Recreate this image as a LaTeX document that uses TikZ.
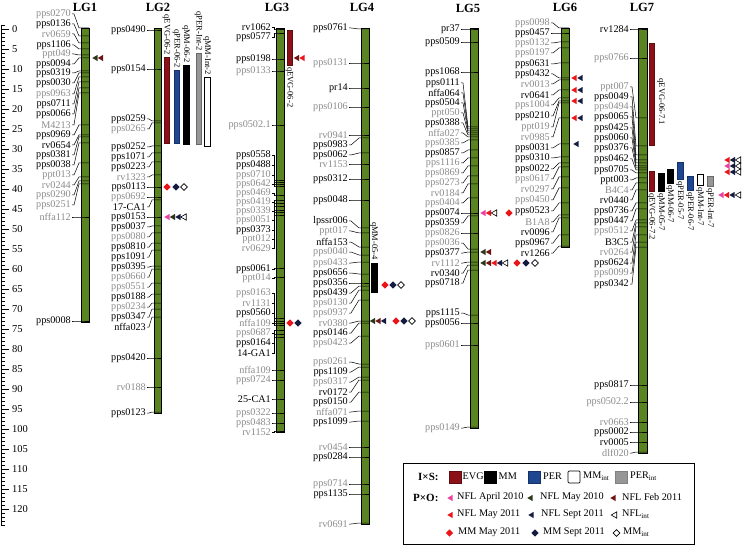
\documentclass[tikz,border=0pt]{standalone}
\usepackage{fontspec}
\setmainfont{Liberation Serif}
\definecolor{bargreen}{RGB}{90,132,34}
\definecolor{evg}{RGB}{140,16,24}
\definecolor{per}{RGB}{30,70,145}
\definecolor{perint}{RGB}{150,150,150}
\definecolor{lgray}{RGB}{140,140,140}
\definecolor{cpink}{RGB}{236,64,160}
\definecolor{colive}{RGB}{45,55,25}
\definecolor{cbrown}{RGB}{110,20,20}
\definecolor{cred}{RGB}{235,20,25}
\definecolor{cnavy}{RGB}{20,28,65}
\tikzset{
  lab/.style={font=\fontsize{10.2}{11}\selectfont,inner sep=0pt,anchor=east},
  con/.style={line width=0.5pt,draw=black},
  chrom/.style={fill=bargreen,draw=black,line width=0.7pt},
  lgtitle/.style={font=\bfseries\fontsize{12.5}{14}\selectfont,inner sep=0pt},
  axline/.style={line width=0.6pt,draw=black},
  axlab/.style={font=\fontsize{10.5}{12}\selectfont,inner sep=0pt,anchor=west},
  qlab/.style={font=\fontsize{8.5}{10}\selectfont,inner sep=0pt,rotate=-90},
  qevg/.style={fill=evg,draw=evg!70!black,line width=0.4pt},
  qmm/.style={fill=black,draw=black,line width=0.4pt},
  qper/.style={fill=per,draw=per!70!black,line width=0.4pt},
  qmmint/.style={fill=white,draw=black,line width=0.7pt},
  qperint/.style={fill=perint,draw=perint!70!black,line width=0.4pt},
  leg/.style={font=\fontsize{10.2}{12}\selectfont,inner sep=0pt,anchor=west},
  legb/.style={font=\bfseries\fontsize{11}{12}\selectfont,inner sep=0pt,anchor=west},
}
\newcommand\ltri[3]{\fill[#3] (#1-2.7,#2) -- (#1+2.7,#2-3.2) -- (#1+2.7,#2+3.2) -- cycle;}
\newcommand\otri[2]{\draw[line width=0.6pt,fill=white] (#1-2.7,#2) -- (#1+2.7,#2-3.2) -- (#1+2.7,#2+3.2) -- cycle;}
\newcommand\mdia[3]{\fill[#3] (#1-3.7,#2) -- (#1,#2-3.7) -- (#1+3.7,#2) -- (#1,#2+3.7) -- cycle;}
\newcommand\odia[2]{\draw[line width=0.6pt,fill=white] (#1-3.4,#2) -- (#1,#2-3.4) -- (#1+3.4,#2) -- (#1,#2+3.4) -- cycle;}
\newcommand\drawlg[5]{%
  \foreach \t/\ly/\by/\c [count=\i] in {#5}{%
    \node[lab,text=\c] (#1l\i) at (#2,\ly) {\t};
    \coordinate (#1b\i) at (#3,\by);
    \draw[con] (#1l\i.east) ++(1,0) -- ++(2,0) -- ([xshift=-2]#1b\i) -- (#1b\i) -- ++(#4-#3,0);
  }}
\begin{document}
\begin{tikzpicture}[x=1pt,y=-1pt]
\useasboundingbox (0,0) rectangle (746,545);
\fill[white] (0,0) rectangle (746,545);
% scale axis
\draw[axline] (1,25) -- (1,525);
\foreach \k in {-1,...,124}{\draw[axline] (1,{29+4*\k}) -- (5,{29+4*\k});}
\foreach \k in {0,5,...,120}{\draw[axline] (1,{29+4*\k}) -- (9,{29+4*\k});
  \node[axlab] (ax\k) at (12,{29+4*\k}) {\k};}
% titles
\node[lgtitle] (t1) at (85,7) {LG1};
\node[lgtitle] (t2) at (158,7) {LG2};
\node[lgtitle] (t3) at (277,7) {LG3};
\node[lgtitle] (t4) at (362,7) {LG4};
\node[lgtitle] (t5) at (468,8) {LG5};
\node[lgtitle] (t6) at (565,7) {LG6};
\node[lgtitle] (t7) at (642,7) {LG7};
% chromosome bars
\draw[chrom] (81,28) rectangle (89,322);
\draw[chrom] (154,28) rectangle (161.5,413);
\draw[chrom] (276,28) rectangle (284,432);
\draw[chrom] (361,28) rectangle (369,524);
\draw[chrom] (470,28) rectangle (478,428);
\draw[chrom] (561,28) rectangle (569,247);
\draw[chrom] (638,28) rectangle (647,453);
% LG1
\drawlg{A}{71}{81}{89}{pps0270/14/28/lgray,
pps0136/24/36/black,
rv0659/34/43/lgray,
pps1106/45/49/black,
ppt049/54/55/lgray,
pps0094/64/58/black,
pps0319/73/71/black,
pps0030/83/73/black,
pps0963/94/77/lgray,
pps0711/104/82/black,
pps0066/114/88/black,
M4213/125/93/lgray,
pps0969/135/125/black,
rv0654/145/135/black,
pps0381/155/137/black,
pps0038/165/143/black,
ppt013/175/163/lgray,
rv0244/185/177/lgray,
pps0290/195/181/lgray,
pps0251/205/184/lgray,
nffa112/217/217/lgray,
pps0008/321/321/black}
% LG2
\drawlg{B}{146}{154}{161.5}{pps0490/30/30/black,
pps0154/69/69/black,
pps0259/119/121/black,
pps0265/129/123/lgray,
pps0252/147/146/black,
pps1071/157/153/black,
pps0223/167/162/black,
rv1323/177/175/lgray,
pps0113/187/187/black,
pps0692/197/197/lgray,
17-CA1/207/200/black,
pps0153/217/217/black,
pps0037/227/226/black,
pps0080/237/233/lgray,
pps0810/247/243/black,
pps1091/257/250/black,
pps0395/267/266/black,
pps0660/277/269/lgray,
pps0551/287/283/lgray,
pps0188/297/294/black,
pps0234/307/303/lgray,
pps0347/317/309/black,
nffa023/327/317/black,
pps0420/358/358/black,
rv0188/387/387/lgray,
pps0123/413/412/black}
% LG3
\drawlg{C}{271}{276}{284}{rv1062/27/29/black,
pps0577/37/33/black,
pps0198/59/59/black,
pps0133/71/71/lgray,
pps0502.1/125/125/lgray,
pps0558/155/180/black,
pps0488/165/182/black,
pps0710/175/184/lgray,
pps0642/184/186/lgray,
pps0469/193/195/lgray,
pps0419/202/200/lgray,
pps0339/211/203/lgray,
pps0051/220/206/lgray,
pps0373/230/210/black,
ppt012/239/212/lgray,
rv0629/248/215/lgray,
pps0061/269/268/black,
ppt014/278/277/lgray,
pps0163/293/318/lgray,
rv1131/303/321/lgray,
pps0560/313/323/black,
nffa109/323/325/lgray,
pps0687/333/330/lgray,
pps0164/343/334/black,
14-GA1/353/337/black,
nffa109/370/370/lgray,
pps0724/380/380/lgray,
25-CA1/399/399/black,
pps0322/413/413/lgray,
pps0483/423/423/lgray,
rv1152/432/431/lgray}
% LG4
\drawlg{D}{348}{361}{369}{pps0761/28/29/black,
pps0131/63/63/lgray,
pr14/88/88/black,
pps0106/107/107/lgray,
rv0941/135/135/lgray,
pps0983/145/138/black,
pps0062/155/153/black,
rv1153/164/164/lgray,
pps0312/179/179/black,
pps0048/200/200/black,
lpssr006/221/228/black,
ppt017/231/233/lgray,
nffa153/242/247/black,
pps0040/252/255/lgray,
pps0433/263/262/lgray,
pps0656/273/274/black,
pps0356/283/283/black,
pps0439/293/286/black,
pps0130/303/290/lgray,
pps0937/313/300/lgray,
rv0380/323/321/lgray,
pps0146/333/323/black,
pps0423/343/336/lgray,
pps0261/362/364/lgray,
pps1109/372/367/black,
pps0317/382/377/lgray,
rv0172/392/380/black,
pps0150/402/392/black,
nffa071/412/411/lgray,
pps1099/422/421/black,
rv0454/447/447/lgray,
pps0284/457/457/black,
pps0714/484/484/lgray,
pps1135/494/494/black,
rv0691/524/523/lgray}
% LG5
\drawlg{E}{460}{470}{478}{pr37/29/29/black,
pps0509/42/42/black,
pps1068/72/72/black,
pps0111/83/127/black,
nffa064/93/129/black,
pps0504/103/131/black,
ppt050/113/133/lgray,
pps0388/123/135/black,
nffa027/133/137/lgray,
pps0385/143/140/lgray,
pps0857/153/150/black,
pps1116/163/158/lgray,
pps0869/173/166/lgray,
pps0273/183/176/lgray,
rv0184/193/184/lgray,
pps0404/203/198/lgray,
pps0074/213/213/black,
pps0359/223/216/black,
pps0826/233/233/lgray,
pps0036/243/249/lgray,
pps0377/253/252/black,
rv1112/263/262/lgray,
rv0340/273/265/black,
pps0718/283/270/black,
pps1115/313/315/black,
pps0056/323/323/black,
pps0601/345/345/lgray,
pps0149/428/427/lgray}
% LG6
\drawlg{F}{550}{561}{569}{pps0098/23/28/lgray,
pps0457/33/33/black,
pps0132/43/42/lgray,
pps0197/53/48/lgray,
pps0631/64/63/black,
pps0432/74/78/black,
rv0013/84/80/lgray,
rv0641/95/90/black,
pps1004/105/98/lgray,
pps0210/116/101/black,
ppt019/127/103/lgray,
rv0985/137/118/lgray,
pps0031/148/144/black,
pps0310/158/157/black,
pps0022/169/163/black,
pps0617/179/167/lgray,
rv0297/189/177/lgray,
pps0450/200/188/lgray,
pps0523/211/203/black,
B1A8/222/215/lgray,
rv0096/232/218/black,
pps0967/243/235/black,
rv1266/253/246/black}
% LG7
\drawlg{G}{629}{638}{647}{rv1284/29/29/black,
pps0766/58/58/lgray,
ppt007/87/118/lgray,
pps0049/97/146/black,
pps0494/107/155/lgray,
pps0065/117/160/black,
pps0425/128/163/black,
pps0060/138/166/black,
pps0376/148/168/black,
pps0462/159/170/black,
pps0705/170/173/black,
ppt003/180/178/black,
B4C4/190/183/lgray,
rv0440/200/190/black,
pps0736/211/203/black,
pps0447/221/209/black,
pps0512/231/220/lgray,
B3C5/242/223/black,
rv0264/252/227/lgray,
pps0624/263/235/black,
pps0099/273/242/lgray,
pps0342/284/247/black,
pps0817/385/385/black,
pps0502.2/402/402/lgray,
rv0663/422/422/lgray,
pps0002/432/432/black,
rv0005/442/442/black,
dlf020/453/452/lgray}
% QTL LG2
\draw[qevg] (164,57) rectangle (169,143);
\node[qlab,anchor=east] (q2a) at (166.5,55) {qEVG-06-2};
\draw[qper] (174,70) rectangle (179,143);
\node[qlab,anchor=east] (q2b) at (176.5,68) {qPER-06-2};
\draw[qmm] (183,65) rectangle (189,144);
\node[qlab,anchor=east] (q2c) at (186,63) {qMM-06-2};
\draw[qperint] (196,53) rectangle (201,144);
\node[qlab,anchor=east] (q2d) at (198.5,51) {qPER-Int-2};
\draw[qmmint] (204,77) rectangle (210,146);
\node[qlab,anchor=east] (q2e) at (207,75) {qMM-Int-2};
% QTL LG3
\draw[qevg] (287,30) rectangle (292,65);
\node[qlab,anchor=west] (q3a) at (289.5,67) {qEVG-06-2};
% QTL LG4
\draw[qmm] (371,263) rectangle (377,292);
\node[qlab,anchor=east] (q4a) at (374,260) {qMM-05-4};
% QTL LG7
\draw[qevg] (649,43) rectangle (654,145);
\node[qlab] (q7a) at (661,102) {qEVG-06-7.1};
\draw[qevg] (649,171) rectangle (654,191);
\node[qlab,anchor=west] (q7b) at (651.5,193) {qEVG-06-7.2};
\draw[qmm] (658,173) rectangle (664,191);
\node[qlab,anchor=west] (q7c) at (661,193) {qMM-05-7};
\draw[qmm] (667,169) rectangle (673,183);
\node[qlab,anchor=west] (q7d) at (670,185) {qMM-06-7};
\draw[qper] (677,162) rectangle (683,179);
\node[qlab,anchor=west] (q7e) at (680,181) {qPER-05-7};
\draw[qper] (687,176) rectangle (693,190);
\node[qlab,anchor=west] (q7f) at (690,192) {qPER-06-7};
\draw[qmmint] (697,174) rectangle (703,185);
\node[qlab,anchor=west] (q7g) at (700,187) {qMM-Int-7};
\draw[qperint] (707,176) rectangle (713,186);
\node[qlab,anchor=west] (q7h) at (710,188) {qPER-Int-7};
% P x O symbols
\ltri{95}{58}{colive}\ltri{100.5}{58}{cbrown}
\mdia{167}{187}{cred}\mdia{176}{187}{cnavy}\odia{184}{187}
\ltri{167}{217}{cpink}\ltri{172.5}{217}{colive}\ltri{178}{217}{cnavy}\otri{183.5}{217}
\ltri{296.5}{58}{cbrown}\ltri{302}{58}{cred}
\mdia{290}{323}{cred}\mdia{298}{323}{cnavy}
\mdia{385}{285}{cred}\mdia{393}{285}{cnavy}\odia{401}{285}
\ltri{372.5}{321}{colive}\ltri{378}{321}{cbrown}\ltri{383.5}{321}{cnavy}
\mdia{396}{321}{cred}\mdia{404}{321}{cnavy}\odia{412}{321}
\ltri{483}{213}{cpink}\ltri{488.5}{213}{cred}\otri{494}{213}\mdia{509}{213}{cred}
\ltri{483}{252}{colive}\ltri{488.5}{252}{cbrown}
\ltri{483}{263}{colive}\ltri{488.5}{263}{cbrown}\ltri{494}{263}{cred}\ltri{499.5}{263}{cnavy}\otri{505}{263}
\mdia{517}{263}{cred}\mdia{526}{263}{cnavy}\odia{535}{263}
\foreach \yy in {78,90,101,118}{\ltri{574}{\yy}{cred}\ltri{580}{\yy}{cnavy}}
\ltri{576}{144}{cnavy}
\ltri{727}{160}{cred}\ltri{732.5}{160}{cnavy}\otri{738}{160}
\ltri{727}{166}{cpink}\ltri{732.5}{166}{cnavy}\otri{738}{166}
\ltri{727}{172}{cred}\ltri{732.5}{172}{cnavy}\otri{738}{172}
\ltri{721}{195}{cpink}\ltri{726.5}{195}{cred}\ltri{732}{195}{cnavy}\otri{738}{195}
% legend
\draw[line width=0.8pt] (403,463) rectangle (694,544);
\node[legb] (lis) at (418,477) {I×S:};
\draw[qevg] (449,471) rectangle (461,483);
\node[leg] (l1) at (462.5,476) {EVG};
\draw[qmm] (484,471) rectangle (496,483);
\node[leg] (l2) at (498.5,476) {MM};
\draw[qper] (528,471) rectangle (540,483);
\node[leg] (l3) at (543,476) {PER};
\draw[qmmint,rounded corners=1pt] (568,471) rectangle (580,483);
\node[leg] (l4) at (583,476) {MM\textsubscript{int}};
\draw[qperint,draw=gray,line width=0.8pt] (615,471) rectangle (627,483);
\node[leg] (l5) at (630,476) {PER\textsubscript{int}};
\node[legb] (lpo) at (413,498) {P×O:};
\ltri{450}{498}{cpink}
\node[leg] (l6) at (457,497) {NFL April 2010};
\ltri{530}{498}{colive}
\node[leg] (l7) at (540,497) {NFL May 2010};
\ltri{613}{498}{cbrown}
\node[leg] (l8) at (622,497) {NFL Feb 2011};
\ltri{450}{515}{cred}
\node[leg] (l9) at (457,514) {NFL May 2011};
\ltri{531}{515}{cnavy}
\node[leg] (l10) at (541,514) {NFL Sept 2011};
\otri{614}{515}
\node[leg] (l11) at (622,514) {NFL\textsubscript{int}};
\mdia{449.5}{533}{cred}
\node[leg] (l12) at (458,532) {MM May 2011};
\mdia{535}{533}{cnavy}
\node[leg] (l13) at (543,532) {MM Sept 2011};
\odia{616.5}{533}
\node[leg] (l14) at (623,532) {MM\textsubscript{int}};
\end{tikzpicture}
\end{document}
